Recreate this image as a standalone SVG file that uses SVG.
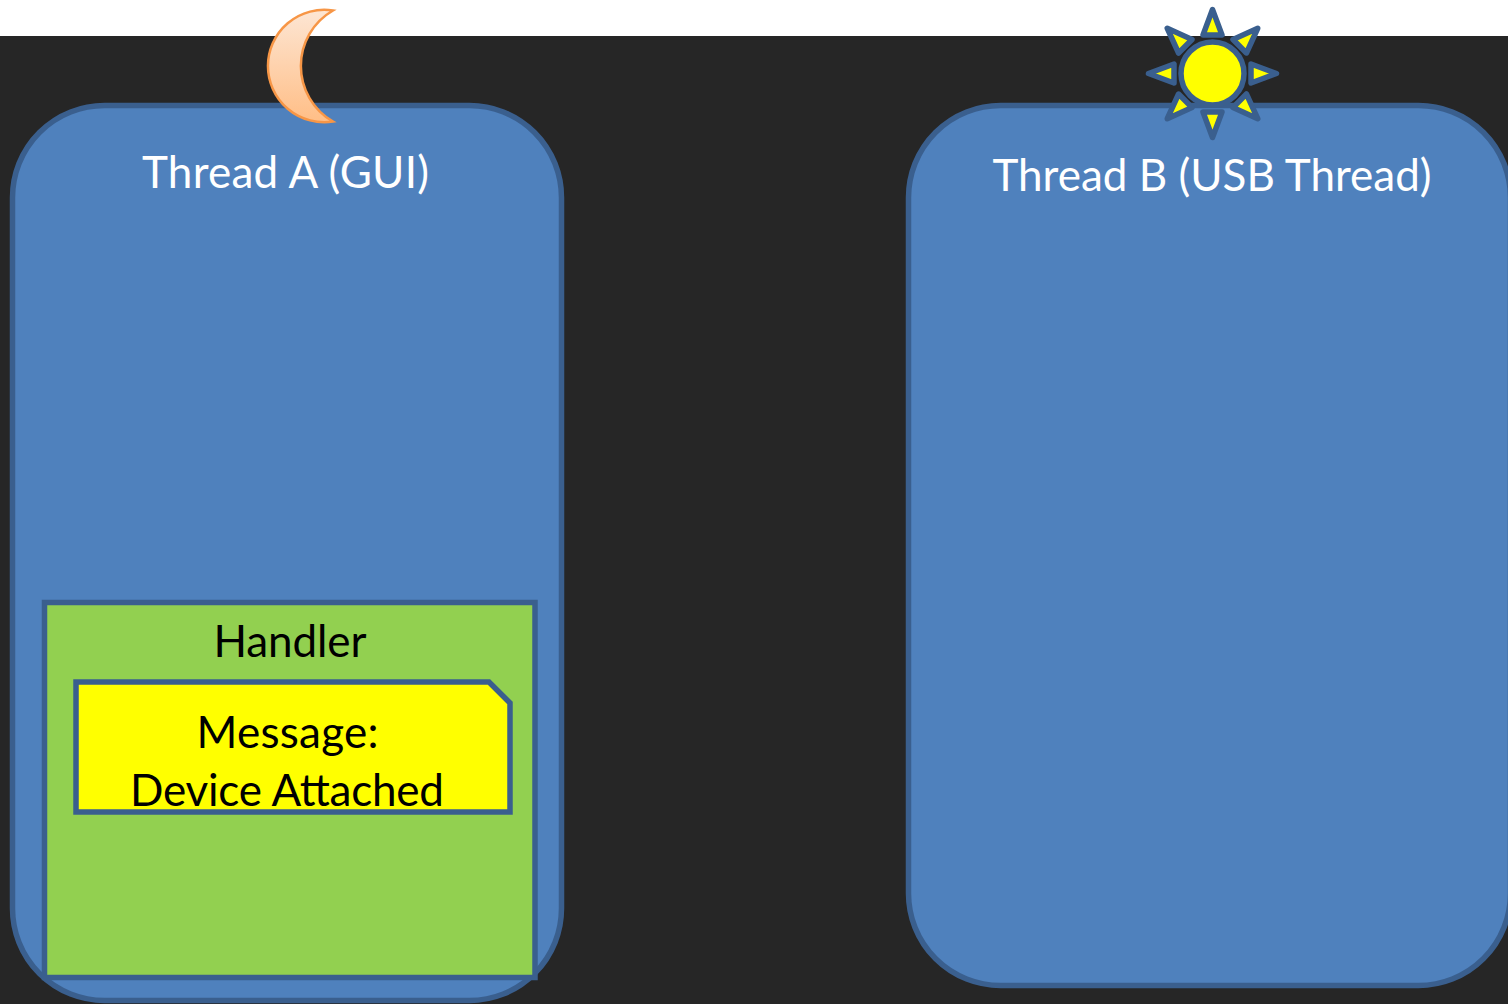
<svg xmlns="http://www.w3.org/2000/svg" width="1508" height="1004" viewBox="0 0 1508 1004">
<style>
.b{stroke:#3a5f8e;stroke-width:5.5}
.thread{fill:#4f81bd}
.t{font-family:Lato,"Open Sans",sans-serif;font-size:44px;text-anchor:middle}
.ray{fill:#ffff00;stroke:#3a5f8e;stroke-width:5.5;stroke-linejoin:round}
</style>
<defs>
<linearGradient id="moonFill" x1="0" y1="0" x2="0" y2="1"><stop offset="0" stop-color="#fde6d4"/><stop offset="1" stop-color="#ffbe86"/></linearGradient>
<polygon id="ray" class="ray" points="0,-64 9.5,-38.5 -9.5,-38.5"/>
</defs>
<rect width="1508" height="1004" fill="#262626"/>
<rect width="1508" height="36" fill="#ffffff"/>
<g id="thread-a">
<rect class="thread b" x="12.5" y="105.5" width="549" height="895" rx="92" ry="92"/>
<text class="t" x="285.5" y="188" fill="#ffffff" textLength="287" lengthAdjust="spacing">Thread A (GUI)</text>
</g>
<g id="thread-b">
<rect class="thread b" x="908.5" y="105.5" width="602" height="880" rx="92" ry="92"/>
<text class="t" x="1212" y="191" fill="#ffffff">Thread B (USB Thread)</text>
</g>
<g id="moon">
<path d="M333,10.5 A56.2 56.2 0 1 0 333,121.5 A64 64 0 0 1 333,10.5 Z" fill="url(#moonFill)" stroke="#f79646" stroke-width="2.5"/>
</g>
<g id="sun">
<g transform="translate(1212.5 73.5)">
<use href="#ray"/>
<use href="#ray" transform="rotate(45)"/>
<use href="#ray" transform="rotate(90)"/>
<use href="#ray" transform="rotate(135)"/>
<use href="#ray" transform="rotate(180)"/>
<use href="#ray" transform="rotate(225)"/>
<use href="#ray" transform="rotate(270)"/>
<use href="#ray" transform="rotate(315)"/>
<circle r="31.5" class="ray"/>
</g>
</g>
<g id="handler">
<rect class="b" x="44.5" y="602.5" width="490.5" height="375" fill="#92d050"/>
<text class="t" x="290" y="657" fill="#000000" textLength="153" lengthAdjust="spacing">Handler</text>
</g>
<g id="message">
<path class="b" d="M76,682 H489 L510,703 V812 H76 Z" fill="#ffff00"/>
<text class="t" x="287.5" y="748" fill="#000000" textLength="182" lengthAdjust="spacing">Message:</text>
<text class="t" x="287" y="806" fill="#000000" textLength="314" lengthAdjust="spacing">Device Attached</text>
</g>
<g id="connectors"></g>
</svg>
